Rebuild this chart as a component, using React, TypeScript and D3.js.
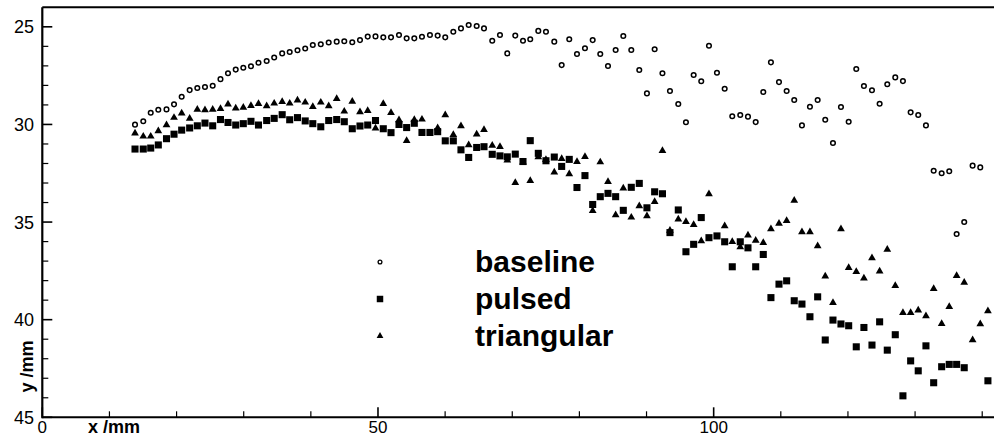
import React from 'react';
import * as d3 from 'd3';

// streamwise stations (mm), shared by the three runs
const xPositions = [
  13.81, 15.04, 16.15, 17.28, 18.5, 19.62, 20.76, 21.95, 23.09, 24.23,
  25.38, 26.54, 27.66, 28.81, 29.94, 31.08, 32.2, 33.42, 34.54, 35.73,
  36.85, 38.01, 39.16, 40.29, 41.48, 42.66, 43.85, 44.98, 46.17, 47.32,
  48.47, 49.63, 50.79, 51.94, 53.13, 54.27, 55.41, 56.55, 57.74, 58.89,
  60.02, 61.22, 62.36, 63.51, 64.7, 65.79, 67.02, 68.17, 69.26, 70.45,
  71.6, 72.68, 73.88, 75.02, 76.26, 77.36, 78.49, 79.64, 80.83, 81.98,
  83.11, 84.26, 85.4, 86.54, 87.73, 88.92, 90.06, 91.21, 92.37, 93.49,
  94.73, 95.87, 97.02, 98.15, 99.3, 100.49, 101.64, 102.77, 103.96, 105.11,
  106.26, 107.39, 108.53, 109.73, 110.87, 112.0, 113.15, 114.34, 115.49, 116.62,
  117.77, 118.96, 120.11, 121.24, 122.38, 123.58, 124.72, 125.86, 127.05, 128.19,
  129.34, 130.47, 131.62, 132.77, 133.96, 135.09, 136.19, 137.32, 138.57, 139.71,
  140.85,
];

const baseline = [
  30.01, 29.84, 29.4, 29.25, 29.23, 28.97, 28.58, 28.24, 28.13, 28.08,
  28.02, 27.68, 27.38, 27.19, 27.1, 27.02, 26.84, 26.75, 26.57, 26.36,
  26.29, 26.2, 26.11, 25.93, 25.89, 25.8, 25.76, 25.74, 25.79, 25.68,
  25.5, 25.49, 25.54, 25.54, 25.42, 25.59, 25.59, 25.51, 25.42, 25.45,
  25.54, 25.25, 25.08, 24.91, 24.96, 25.08, 25.71, 25.42, 26.36, 25.45,
  25.71, 25.64, 25.21, 25.25, 25.76, 26.96, 25.64, 26.39, 26.1, 25.68,
  26.39, 27.01, 26.19, 25.47, 26.19, 27.21, 28.41, 26.15, 27.38, 28.29,
  28.95, 29.89, 27.47, 27.79, 25.97, 27.35, 28.17, 29.58, 29.52, 29.6,
  29.88, 28.34, 26.82, 27.83, 28.29, 28.75, 30.05, 29.09, 28.75, 29.76,
  30.95, 29.11, 29.86, 27.16, 28.03, 28.25, 28.94, 27.94, 27.59, 27.78,
  29.38, 29.52, 30.05, 32.37, 32.5, 32.4, 35.61, 35.0, 32.11, 32.2,
  null,
];

const pulsed = [
  31.26, 31.26, 31.21, 31.05, 30.73, 30.5, 30.29, 30.18, 30.07, 29.93,
  30.07, 29.75, 29.9, 30.03, 29.96, 29.84, 30.03, 29.8, 29.69, 29.5,
  29.76, 29.65, 29.82, 29.96, 30.12, 29.8, 29.75, 29.86, 30.22, 30.08,
  30.03, 29.8, 30.22, 30.42, 30.0, 30.16, 29.94, 30.41, 30.41, 30.37,
  30.84, 30.84, 31.3, 31.69, 31.18, 31.14, 31.53, 31.61, 31.66, 31.52,
  31.9, 30.83, 31.48, 31.86, 31.67, 32.15, 31.79, 33.23, 32.62, 34.1,
  33.7, 33.53, 33.7, 34.4, 33.22, 33.02, 34.27, 33.45, 33.55, 35.54,
  34.38, 36.52, 36.14, 34.77, 35.8, 35.71, 36.01, 37.29, 36.01, 36.32,
  37.29, 36.66, 38.87, 38.18, 38.01, 39.03, 39.2, 39.85, 38.83, 41.04,
  40.02, 40.22, 40.31, 41.39, 40.4, 41.3, 40.11, 41.56, 40.77, 43.9,
  42.11, 42.62, 41.34, 43.23, 42.41, 42.29, 42.29, 42.46, null, null,
  43.13,
];

const triangular = [
  30.45, 30.61, 30.61, 30.34, 30.03, 29.65, 29.43, 29.69, 29.23, 29.26,
  29.23, 29.2, 28.97, 29.17, 29.13, 29.04, 28.94, 29.05, 28.92, 28.84,
  28.92, 28.76, 28.87, 29.09, 28.87, 29.05, 28.68, 29.33, 28.82, 29.36,
  29.3, 30.2, 28.94, 29.4, 29.77, 30.84, 29.76, 29.74, null, 30.18,
  29.52, 30.53, 30.08, 31.05, 30.5, 30.27, 31.08, 31.14, 31.84, 32.99,
  31.94, 32.88, 31.67, 31.81, 32.45, 31.76, 32.54, 31.91, 31.65, 34.42,
  31.93, 32.93, 34.64, 33.27, 34.76, 34.18, 34.69, 33.96, 31.35, 35.43,
  34.86, 34.98, 35.14, 35.97, 33.56, null, 35.2, 36.01, 36.28, 35.68,
  35.94, 36.06, 35.35, 35.07, 34.93, 33.89, 35.51, 35.51, 36.23, 37.77,
  39.13, 35.36, 37.34, 37.55, 37.88, 36.84, 37.52, 36.4, 38.26, 39.65,
  39.65, 39.52, 39.81, 38.41, 40.21, 39.34, 37.75, 38.1, 41.04, 40.22,
  39.55,
];

const seriesNames = ['baseline', 'pulsed', 'triangular'];
const xMajorTicks = [0, 50, 100];
const yMajorTicks = [25, 30, 35, 40, 45];

const W = 994;
const H = 437;
const FONT = '"Liberation Sans", Arial, Helvetica, sans-serif';

const x = d3.scaleLinear().domain([0, 141.8]).range([42.3, 994.3]);
const y = d3.scaleLinear().domain([24, 45]).range([7.3, 417.3]);

const xMinorTicks = d3.range(0, 150, 10).filter((t) => !xMajorTicks.includes(t));
const yMinorTicks = d3.range(25, 45, 1).filter((t) => !yMajorTicks.includes(t));

const squarePath = d3.symbol().type(d3.symbolSquare).size(50)();
const trianglePath = d3.symbol().type(d3.symbolTriangle).size(26)();
const squareLegend = d3.symbol().type(d3.symbolSquare).size(42)();
const triangleLegend = d3.symbol().type(d3.symbolTriangle).size(20)();

function points(values: (number | null)[]) {
  return values
    .map((v, i) => ({ x: xPositions[i], y: v }))
    .filter((d) => d.y !== null) as { x: number; y: number }[];
}

export default function App() {
  const left = x(0);
  const bottom = y(45);
  const top = y(24);

  return (
    <svg
      width={W}
      height={H}
      style={{ position: 'absolute', left: 0, top: 0, background: '#fff' }}
      fontFamily={FONT}
    >
      {/* frame */}
      <line x1={left} x2={W} y1={top} y2={top} stroke="#000" strokeWidth={2} />
      <line x1={left} x2={W} y1={bottom} y2={bottom} stroke="#000" strokeWidth={2} />
      <line x1={left} x2={left} y1={top} y2={bottom + 1} stroke="#000" strokeWidth={2.2} />

      {/* y ticks */}
      {yMajorTicks.map((t) => (
        <g key={'ym' + t}>
          <line x1={left} x2={left + 10} y1={y(t)} y2={y(t)} stroke="#000" strokeWidth={1.6} />
          <text x={34} y={y(t)} dy="0.36em" textAnchor="end" fontSize={18}>
            {t}
          </text>
        </g>
      ))}
      {yMinorTicks.map((t) => (
        <line key={'yn' + t} x1={left} x2={left + 6} y1={y(t)} y2={y(t)} stroke="#000" strokeWidth={1.2} />
      ))}

      {/* x ticks */}
      {xMajorTicks.map((t) => (
        <g key={'xm' + t}>
          <line x1={x(t)} x2={x(t)} y1={bottom} y2={bottom - 10} stroke="#000" strokeWidth={1.6} />
          <text x={x(t)} y={433} textAnchor="middle" fontSize={17}>
            {t}
          </text>
        </g>
      ))}
      {xMinorTicks.map((t) => (
        <line key={'xn' + t} x1={x(t)} x2={x(t)} y1={bottom} y2={bottom - 6} stroke="#000" strokeWidth={1.2} />
      ))}

      {/* axis titles */}
      <text x={88} y={433} fontSize={18} fontWeight="bold">
        x /mm
      </text>
      <text
        transform={`translate(32.5,366.5) rotate(-90)`}
        textAnchor="middle"
        fontSize={18}
        fontWeight="bold"
      >
        y /mm
      </text>

      {/* data */}
      <g>
        {points(baseline).map((d, i) => (
          <circle key={'b' + i} cx={x(d.x)} cy={y(d.y)} r={2.3} fill="#fff" stroke="#000" strokeWidth={1.5} />
        ))}
      </g>
      <g>
        {points(pulsed).map((d, i) => (
          <path key={'p' + i} d={squarePath || ''} transform={`translate(${x(d.x)},${y(d.y)})`} fill="#000" />
        ))}
      </g>
      <g>
        {points(triangular).map((d, i) => (
          <path key={'t' + i} d={trianglePath || ''} transform={`translate(${x(d.x)},${y(d.y)})`} fill="#000" />
        ))}
      </g>

      {/* legend */}
      <g>
        {seriesNames.map((name, i) => {
          const ly = 262 + i * 37;
          return (
            <g key={name}>
              {i === 0 && <circle cx={380} cy={ly} r={1.9} fill="#fff" stroke="#000" strokeWidth={1.3} />}
              {i === 1 && <path d={squareLegend || ''} transform={`translate(380,${ly})`} fill="#000" />}
              {i === 2 && <path d={triangleLegend || ''} transform={`translate(380,${ly})`} fill="#000" />}
              <text x={475} y={ly + 10} fontSize={30} fontWeight="bold">
                {name}
              </text>
            </g>
          );
        })}
      </g>
    </svg>
  );
}
